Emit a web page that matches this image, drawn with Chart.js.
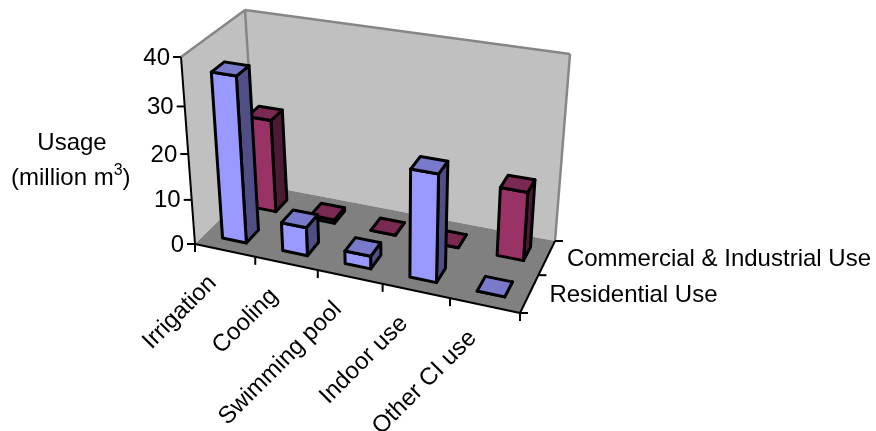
<!DOCTYPE html>
<html>
<head>
<meta charset="utf-8">
<title>Usage</title>
<style>
  html, body { margin: 0; padding: 0; background: #fff; }
  canvas { display: block; }
</style>
<script src="https://cdn.jsdelivr.net/npm/chart.js@4/dist/chart.umd.min.js"></script>
</head>
<body>
<canvas id="usageChart" width="876" height="431"></canvas>
<script>
const categories = ["Irrigation", "Cooling", "Swimming pool", "Indoor use", "Other CI use"];
const seriesNames = ["Residential Use", "Commercial & Industrial Use"];
const residential = [36, 6.3, 2.8, 23, 0];
const commercial = [21, 0.8, 0, 0, 15];
const yTitle = ["Usage", "(million m", "3", ")"];

const FONT = '"Liberation Sans", Arial, sans-serif';
const BLUE = { front: "#9999ff", top: "#7a7acc", side: "#4f4f85" };
const RED = { front: "#993366", top: "#7a2952", side: "#4d1a33" };

// box corners on screen: [front-left, front-right, back-right, back-left]
const floorQuad = [[195, 244], [520, 313], [555, 241], [256, 184]];
const topQuad = [[181, 57], [533, 112], [570, 54], [245, 10]];
const heightBend = 1.079; // foreshortening up the value axis

// unit square -> quad homography
function quadMap(q) {
    const [[x0, y0], [x1, y1], [x2, y2], [x3, y3]] = q;
    const dx1 = x1 - x2, dx2 = x3 - x2, sx = x0 - x1 + x2 - x3;
    const dy1 = y1 - y2, dy2 = y3 - y2, sy = y0 - y1 + y2 - y3;
    const den = dx1 * dy2 - dx2 * dy1;
    const g = (sx * dy2 - dx2 * sy) / den;
    const h = (dx1 * sy - sx * dy1) / den;
    const a = x1 - x0 + g * x1, b = x3 - x0 + h * x3;
    const d = y1 - y0 + g * y1, e = y3 - y0 + h * y3;
    return (u, v) => {
        const k = g * u + h * v + 1;
        return [(a * u + b * v + x0) / k, (d * u + e * v + y0) / k];
    };
}

const floorAt = quadMap(floorQuad);
const topAt = quadMap(topQuad);

// u along the categories, v front to back, w up the value axis (all 0..1)
function project(u, v, w) {
    const t = w / (w + (1 - w) * heightBend);
    const p = floorAt(u, v);
    const q = topAt(u, v);
    return [p[0] + (q[0] - p[0]) * t, p[1] + (q[1] - p[1]) * t];
}

function poly(ctx, pts, fill, stroke, lw) {
    ctx.beginPath();
    pts.forEach((p, i) => i ? ctx.lineTo(p[0], p[1]) : ctx.moveTo(p[0], p[1]));
    ctx.closePath();
    if (fill) { ctx.fillStyle = fill; ctx.fill(); }
    if (stroke) { ctx.strokeStyle = stroke; ctx.lineWidth = lw; ctx.stroke(); }
}

function line(ctx, a, b, color, lw) {
    ctx.beginPath();
    ctx.moveTo(a[0], a[1]);
    ctx.lineTo(b[0], b[1]);
    ctx.strokeStyle = color;
    ctx.lineWidth = lw;
    ctx.stroke();
}

function drawWalls(ctx) {
    const A = project(0, 0, 0), B = project(1, 0, 0), C = project(1, 1, 0), D = project(0, 1, 0);
    const At = project(0, 0, 1), Ct = project(1, 1, 1), Dt = project(0, 1, 1);
    poly(ctx, [A, At, Dt, D], "#c0c0c0");
    poly(ctx, [D, Dt, Ct, C], "#c0c0c0");
    poly(ctx, [A, B, C, D], "#808080");
    line(ctx, At, Dt, "#868686", 2.5);
    line(ctx, Dt, Ct, "#868686", 2.5);
    line(ctx, Dt, D, "#868686", 2.5);
    line(ctx, Ct, C, "#868686", 2.5);
    line(ctx, A, At, "#000", 2);
    line(ctx, A, B, "#000", 2);
    line(ctx, B, C, "#000", 2);
}

function drawAxes(chart, ctx) {
    const area = chart.chartArea;
    const { x: xScale, y: yScale, depth: depthScale } = chart.scales;
    const toW = px => (area.bottom - px) / area.height;
    const toU = px => (px - area.left) / area.width;
    ctx.fillStyle = "#000";

    // value axis
    ctx.font = "24px " + FONT;
    ctx.textAlign = "right";
    ctx.textBaseline = "middle";
    yScale.ticks.forEach(tick => {
        const p = project(0, 0, toW(yScale.getPixelForValue(tick.value)));
        line(ctx, p, [p[0] - 8, p[1]], "#000", 2);
        ctx.fillStyle = "#000";
        ctx.fillText(tick.label, p[0] - 11, p[1] + 1);
    });

    // category axis, ticks on the band edges
    for (let i = 0; i <= categories.length; i++) {
        const p = project(i / categories.length, 0, 0);
        line(ctx, p, [p[0], p[1] + 8], "#000", 2);
    }
    categories.forEach((name, i) => {
        const p = project(toU(xScale.getPixelForValue(i)), 0, 0);
        ctx.save();
        ctx.translate(p[0] - 12, p[1] + 29);
        ctx.rotate(-Math.PI / 4);
        ctx.textAlign = "right";
        ctx.textBaseline = "middle";
        ctx.fillStyle = "#000";
        ctx.fillText(name, 0, 0);
        ctx.restore();
    });

    // depth axis
    for (let i = 0; i <= seriesNames.length; i++) {
        const p = project(1, i / seriesNames.length, 0);
        line(ctx, p, [p[0] + 8, p[1]], "#000", 2);
    }
    ctx.textAlign = "left";
    seriesNames.forEach((name, i) => {
        const p = project(1, toU(depthScale.getPixelForValue(i)), 0);
        ctx.fillStyle = "#000";
        ctx.fillText(name, p[0] + 20, p[1] + 1.5);
    });

    // axis title with the superscript
    ctx.textAlign = "center";
    ctx.fillText(yTitle[0], 72, 143);
    ctx.textAlign = "left";
    ctx.fillText(yTitle[1], 11, 178);
    const w = ctx.measureText(yTitle[1]).width;
    ctx.font = "16px " + FONT;
    ctx.fillText(yTitle[2], 11 + w, 171);
    const w3 = ctx.measureText(yTitle[2]).width;
    ctx.font = "24px " + FONT;
    ctx.fillText(yTitle[3], 11 + w + w3, 178);
}

function drawBox(ctx, u0, u1, v0, v1, w0, w1, col) {
    ctx.lineJoin = "round";
    const top = [project(u0, v0, w1), project(u1, v0, w1), project(u1, v1, w1), project(u0, v1, w1)];
    const side = [project(u1, v0, w0), project(u1, v1, w0), project(u1, v1, w1), project(u1, v0, w1)];
    const front = [project(u0, v0, w0), project(u1, v0, w0), project(u1, v0, w1), project(u0, v0, w1)];
    poly(ctx, side, col.side, "#000", 3);
    poly(ctx, front, col.front, "#000", 3);
    poly(ctx, top, col.top, "#000", 3);
}

// turns the flat bar elements into boxes standing on the floor
const perspectiveBars = {
    id: "perspectiveBars",
    beforeDatasetsDraw(chart) {
        const ctx = chart.ctx;
        const area = chart.chartArea;
        const depthScale = chart.scales.depth;
        const bandDepth = 1 / seriesNames.length;
        ctx.save();
        drawWalls(ctx);
        drawAxes(chart, ctx);
        // back row first so the front row covers it
        for (let d = chart.data.datasets.length - 1; d >= 0; d--) {
            const col = d === 0 ? BLUE : RED;
            const v = (depthScale.getPixelForValue(d) - area.left) / area.width;
            chart.getDatasetMeta(d).data.forEach(el => {
                const u0 = (el.x - el.width / 2 - area.left) / area.width;
                const u1 = (el.x + el.width / 2 - area.left) / area.width;
                const w0 = (area.bottom - el.base) / area.height;
                const w1 = (area.bottom - el.y) / area.height;
                drawBox(ctx, u0, u1, v - bandDepth * 0.2, v + bandDepth * 0.2, w0, w1, col);
            });
        }
        ctx.restore();
        return false;
    }
};

new Chart(document.getElementById("usageChart").getContext("2d"), {
    type: "bar",
    data: {
        labels: categories,
        datasets: [
            { label: seriesNames[0], data: residential, backgroundColor: BLUE.front },
            { label: seriesNames[1], data: commercial, backgroundColor: RED.front }
        ]
    },
    options: {
        responsive: false,
        animation: false,
        layout: { padding: 0 },
        grouped: false,
        barPercentage: 0.4,
        categoryPercentage: 1,
        plugins: { legend: { display: false }, tooltip: { enabled: false } },
        scales: {
            x: { type: "category", display: false, offset: true },
            y: { type: "linear", display: false, min: 0, max: 40, ticks: { stepSize: 10 } },
            depth: { type: "category", axis: "x", labels: seriesNames, display: false, offset: true }
        }
    },
    plugins: [perspectiveBars]
});
</script>
</body>
</html>
